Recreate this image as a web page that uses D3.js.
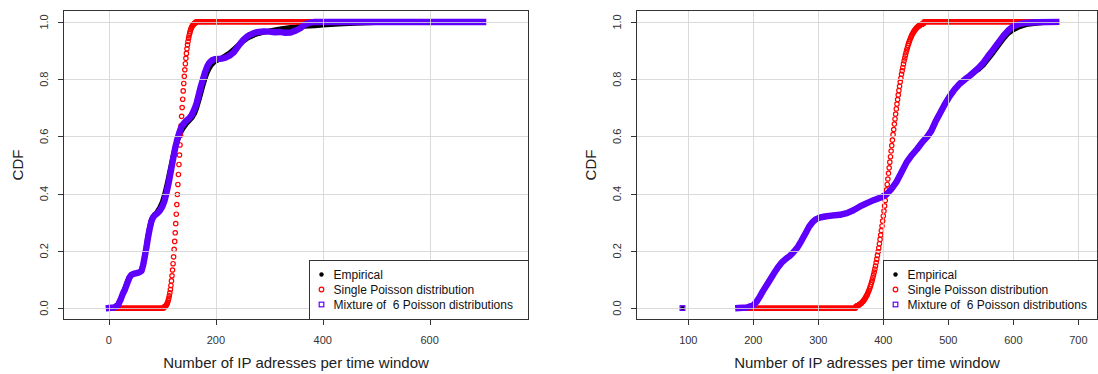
<!DOCTYPE html>
<html>
<head>
<meta charset="utf-8">
<script src="https://cdn.jsdelivr.net/npm/d3@7"></script>
<style>
  body { margin: 0; background: #fff; }
  svg text { font-family: "Liberation Sans", Arial, Helvetica, sans-serif; }
</style>
</head>
<body>
<div class="chart"></div>
<script>
// ---------- data ----------
// left panel
var leftTicksX = [0, 200, 400, 600];
var leftEmpX = [0,10,17,22,26,30,34,38,42,47,52,57,61,64,67,70,73,76,79,82,86,90,95,100,104,108,112,116,120,124,128,132,136,140,145,150,155,160,164,168,172,176,180,184,188,193,198,205,211,218,226,234,240,246,252,258,264,272,280,290,300,310,320,330,340,350,358,366,375,385,400,430,460,500,550,600,650,700];
var leftEmpCdf = [0,0.003,0.012,0.03,0.05,0.068,0.09,0.108,0.117,0.12,0.122,0.125,0.132,0.15,0.18,0.215,0.25,0.28,0.305,0.318,0.327,0.335,0.35,0.37,0.395,0.425,0.46,0.495,0.53,0.56,0.585,0.605,0.62,0.632,0.645,0.655,0.665,0.68,0.70,0.725,0.752,0.78,0.805,0.825,0.84,0.853,0.862,0.868,0.874,0.882,0.892,0.905,0.915,0.925,0.934,0.942,0.948,0.955,0.96,0.965,0.968,0.972,0.975,0.978,0.98,0.982,0.984,0.985,0.986,0.987,0.99,0.993,0.996,0.998,0.999,1,1,1];
var leftMixX = [0,10,17,22,26,30,34,38,42,47,52,57,61,64,67,70,73,76,79,82,86,90,95,100,104,108,112,116,120,124,128,132,136,140,145,150,155,160,164,168,172,176,180,184,188,193,198,205,211,218,226,234,240,246,252,258,264,272,280,290,300,310,320,330,340,350,358,366,375,385,450,500,550,600,650,700];
var leftMixCdf = [0,0.002,0.01,0.03,0.05,0.065,0.085,0.105,0.116,0.12,0.122,0.125,0.13,0.15,0.18,0.21,0.245,0.275,0.30,0.315,0.325,0.33,0.34,0.355,0.375,0.405,0.44,0.48,0.52,0.56,0.59,0.615,0.635,0.645,0.655,0.663,0.675,0.695,0.716,0.745,0.775,0.80,0.825,0.845,0.858,0.866,0.87,0.871,0.872,0.875,0.882,0.895,0.91,0.925,0.938,0.948,0.955,0.962,0.965,0.967,0.966,0.964,0.965,0.962,0.963,0.97,0.978,0.99,0.997,1,1,1,1,1,1,1];
// single Poisson: one value per integer x, starting at leftPoisStart
var leftPoisStart = 103;
var leftPoisCdf = [0.003,0.004,0.005,0.007,0.009,0.012,0.016,0.021,0.027,0.034,0.043,0.053,0.065,0.079,0.095,0.113,0.133,0.155,0.179,0.205,0.233,0.263,0.295,0.328,0.362,0.397,0.432,0.467,0.502,0.535,0.570,0.604,0.637,0.670,0.701,0.730,0.759,0.785,0.810,0.833,0.854,0.873,0.890,0.906,0.920,0.932,0.943,0.952,0.960,0.967,0.973,0.978,0.982,0.986,0.989,0.991,0.993,0.995,0.996,0.997];
// flat stretches of the single Poisson points: [from, to, cdf]
var leftPoisFlat = [[0, 102, 0], [163, 700, 1]];

// right panel
var rightTicksX = [100, 200, 300, 400, 500, 600, 700];
var rightMixX = [91,177,190,200,205,210,215,220,226,232,238,244,250,256,262,268,274,280,286,291,296,302,310,320,333,344,354,364,374,385,397,405,412,420,428,436,444,452,460,468,474,480,487,494,502,510,518,526,533,540,547,554,561,569,577,585,592,600,610,620,635,666];
var rightMixCdf = [0,0,0.002,0.01,0.022,0.04,0.06,0.078,0.1,0.122,0.143,0.16,0.172,0.182,0.196,0.212,0.235,0.26,0.285,0.3,0.31,0.316,0.32,0.323,0.326,0.332,0.342,0.355,0.366,0.377,0.387,0.398,0.415,0.44,0.475,0.51,0.535,0.556,0.58,0.6,0.62,0.65,0.68,0.71,0.74,0.765,0.785,0.8,0.812,0.826,0.84,0.858,0.88,0.903,0.928,0.952,0.97,0.985,0.993,0.997,0.999,1];
var rightEmpX = [91,177,190,200,205,210,215,220,226,232,238,244,250,256,262,268,274,280,286,291,296,302,310,320,333,344,354,364,374,385,397,405,412,420,428,436,444,452,460,468,474,480,487,494,502,510,518,526,533,540,547,554,561,569,577,585,592,600,610,620,635,650,666];
var rightEmpCdf = [0,0,0.002,0.01,0.022,0.04,0.06,0.078,0.1,0.122,0.143,0.16,0.172,0.182,0.196,0.212,0.235,0.26,0.285,0.3,0.31,0.316,0.32,0.323,0.326,0.332,0.342,0.355,0.366,0.377,0.387,0.398,0.415,0.44,0.475,0.51,0.535,0.556,0.58,0.6,0.62,0.65,0.68,0.71,0.74,0.765,0.785,0.8,0.812,0.826,0.835,0.85,0.87,0.893,0.918,0.942,0.96,0.973,0.984,0.991,0.996,0.999,1];
var rightPoisStart = 358;
var rightPoisCdf = [0.006,0.007,0.008,0.009,0.010,0.012,0.013,0.015,0.017,0.019,0.022,0.024,0.027,0.030,0.034,0.038,0.042,0.046,0.051,0.057,0.062,0.068,0.075,0.082,0.090,0.098,0.107,0.116,0.126,0.136,0.147,0.159,0.171,0.184,0.197,0.210,0.225,0.240,0.255,0.271,0.287,0.304,0.322,0.339,0.357,0.376,0.394,0.413,0.432,0.451,0.471,0.490,0.510,0.529,0.549,0.568,0.587,0.606,0.624,0.643,0.661,0.678,0.696,0.713,0.729,0.745,0.760,0.775,0.790,0.803,0.817,0.829,0.841,0.853,0.864,0.874,0.884,0.893,0.902,0.910,0.918,0.925,0.932,0.938,0.944,0.949,0.954,0.958,0.963,0.966,0.970,0.973,0.976,0.979,0.981,0.983,0.985,0.987,0.988,0.990,0.991,0.992,0.993,0.994,0.995];
var rightPoisFlat = [[185, 357, 0], [463, 666, 1]];

var yTicks = [0, 0.2, 0.4, 0.6, 0.8, 1.0];
var legendLabels = ["Empirical", "Single Poisson distribution", "Mixture of  6 Poisson distributions"];
var xTitle = "Number of IP adresses per time window";
var yTitle = "CDF";

// ---------- drawing ----------
var svgWidth = 1098;
var svgHeight = 374;
var blue = "#5f00ff";
var red = "#ff0000";
var gridColor = "#d3d3d3";

var svg = d3.select(".chart")
  .append("svg")
  .attr("width", svgWidth)
  .attr("height", svgHeight);

function pairs(xs, ys) {
  return xs.map(function (x, i) { return [x, ys[i]]; });
}

// break a series wherever consecutive x values are far apart (isolated observations)
function runs(points, maxGap) {
  var out = [[points[0]]];
  for (var i = 1; i < points.length; i++) {
    if (points[i][0] - points[i - 1][0] > maxGap) out.push([]);
    out[out.length - 1].push(points[i]);
  }
  return out;
}

function drawPanel(p) {
  var xScale = d3.scaleLinear().domain(p.xDomain).range([p.left, p.right]);
  var yScale = d3.scaleLinear().domain([-0.04, 1.04]).range([319.5, 10.5]);
  var g = svg.append("g");

  var line = d3.line()
    .x(function (d) { return xScale(d[0]); })
    .y(function (d) { return yScale(d[1]); });

  // empirical (black dots, drawn as a dense band)
  runs(pairs(p.empX, p.empCdf), 70).forEach(function (r) {
    if (r.length === 1) {
      g.append("circle").attr("cx", xScale(r[0][0])).attr("cy", yScale(r[0][1]))
        .attr("r", 2.2).attr("fill", "#000");
    } else {
      g.append("path").datum(r).attr("d", line)
        .attr("fill", "none").attr("stroke", "#000")
        .attr("stroke-width", 5.2).attr("stroke-linejoin", "round");
    }
  });

  // single Poisson: flat stretches as a band, rising part as open circles
  p.poisFlat.forEach(function (f) {
    g.append("path").datum([[f[0], f[2]], [f[1], f[2]]]).attr("d", line)
      .attr("fill", "none").attr("stroke", red)
      .attr("stroke-width", 5.8).attr("stroke-linecap", "round");
  });
  g.selectAll("circle.pois")
    .data(p.poisCdf)
    .enter()
    .append("circle")
    .attr("class", "pois")
    .attr("cx", function (d, i) { return xScale(p.poisStart + i); })
    .attr("cy", function (d) { return yScale(d); })
    .attr("r", 2.2)
    .attr("fill", "none")
    .attr("stroke", red)
    .attr("stroke-width", 1.2);

  // mixture (open squares, drawn as a dense band)
  runs(pairs(p.mixX, p.mixCdf), 70).forEach(function (r) {
    if (r.length === 1) {
      g.append("rect").attr("x", xScale(r[0][0]) - 2.3).attr("y", yScale(r[0][1]) - 2.3)
        .attr("width", 4.6).attr("height", 4.6)
        .attr("fill", "none").attr("stroke", blue).attr("stroke-width", 1.3);
    } else {
      g.append("path").datum(r).attr("d", line)
        .attr("fill", "none").attr("stroke", blue)
        .attr("stroke-width", 6.4).attr("stroke-linejoin", "round")
        .attr("stroke-linecap", "square");
    }
  });

  // grid
  g.selectAll("line.gx").data(p.ticksX).enter().append("line")
    .attr("x1", function (d) { return Math.round(xScale(d)) + 0.5; })
    .attr("x2", function (d) { return Math.round(xScale(d)) + 0.5; })
    .attr("y1", 10.5).attr("y2", 319.5)
    .attr("stroke", gridColor).attr("stroke-opacity", 0.85);
  g.selectAll("line.gy").data(yTicks).enter().append("line")
    .attr("x1", p.left).attr("x2", p.right)
    .attr("y1", function (d) { return Math.round(yScale(d)) + 0.5; })
    .attr("y2", function (d) { return Math.round(yScale(d)) + 0.5; })
    .attr("stroke", gridColor).attr("stroke-opacity", 0.85);

  // frame
  g.append("rect")
    .attr("x", p.left).attr("y", 10.5)
    .attr("width", p.right - p.left).attr("height", 309)
    .attr("fill", "none").attr("stroke", "#333").attr("stroke-width", 1);

  // axes ticks and labels
  g.selectAll("line.tx").data(p.ticksX).enter().append("line")
    .attr("x1", function (d) { return Math.round(xScale(d)) + 0.5; })
    .attr("x2", function (d) { return Math.round(xScale(d)) + 0.5; })
    .attr("y1", 319.5).attr("y2", 325)
    .attr("stroke", "#333");
  g.selectAll("text.tx").data(p.ticksX).enter().append("text")
    .attr("x", function (d) { return xScale(d); })
    .attr("y", 340)
    .attr("text-anchor", "middle").attr("dominant-baseline", "central")
    .attr("font-size", 11).attr("fill", "#333")
    .text(function (d) { return d; });

  g.selectAll("line.ty").data(yTicks).enter().append("line")
    .attr("x1", p.left - 5.5).attr("x2", p.left)
    .attr("y1", function (d) { return Math.round(yScale(d)) + 0.5; })
    .attr("y2", function (d) { return Math.round(yScale(d)) + 0.5; })
    .attr("stroke", "#333");
  g.selectAll("text.ty").data(yTicks).enter().append("text")
    .attr("transform", function (d) {
      return "translate(" + (p.left - 19.5) + "," + yScale(d) + ") rotate(-90)";
    })
    .attr("text-anchor", "middle").attr("dominant-baseline", "central")
    .attr("font-size", 11).attr("fill", "#333")
    .text(function (d) { return d.toFixed(1); });

  // axis titles
  g.append("text")
    .attr("x", (p.left + p.right) / 2).attr("y", 362)
    .attr("text-anchor", "middle").attr("dominant-baseline", "central")
    .attr("font-size", 15).attr("fill", "#222")
    .text(xTitle);
  g.append("text")
    .attr("transform", "translate(" + (p.left - 46.5) + ",165) rotate(-90)")
    .attr("text-anchor", "middle").attr("dominant-baseline", "central")
    .attr("font-size", 15).attr("fill", "#222")
    .text(yTitle);

  // legend
  var lg = g.append("g");
  lg.append("rect")
    .attr("x", p.legendLeft).attr("y", 260.5)
    .attr("width", p.right - p.legendLeft).attr("height", 59)
    .attr("fill", "#fff").attr("stroke", "#333");
  var rowY = [274.5, 289.5, 304.5];
  var symX = p.legendLeft + 12;
  lg.append("circle").attr("cx", symX).attr("cy", rowY[0]).attr("r", 2.2).attr("fill", "#000");
  lg.append("circle").attr("cx", symX).attr("cy", rowY[1]).attr("r", 2.3)
    .attr("fill", "none").attr("stroke", red).attr("stroke-width", 1.2);
  lg.append("rect").attr("x", symX - 2.3).attr("y", rowY[2] - 2.3)
    .attr("width", 4.6).attr("height", 4.6)
    .attr("fill", "none").attr("stroke", blue).attr("stroke-width", 1.2);
  lg.selectAll("text").data(legendLabels).enter().append("text")
    .attr("x", p.legendLeft + 24)
    .attr("y", function (d, i) { return rowY[i]; })
    .attr("dominant-baseline", "central")
    .attr("font-size", 12).attr("fill", "#111")
    .style("white-space", "pre")
    .text(function (d) { return d; });
}

drawPanel({
  left: 63.5, right: 528.5, xDomain: [-85, 785], ticksX: leftTicksX,
  empX: leftEmpX, empCdf: leftEmpCdf, mixX: leftMixX, mixCdf: leftMixCdf,
  poisStart: leftPoisStart, poisCdf: leftPoisCdf, poisFlat: leftPoisFlat,
  legendLeft: 309.5
});

drawPanel({
  left: 636.5, right: 1097.5, xDomain: [20.3, 729.5], ticksX: rightTicksX,
  empX: rightEmpX, empCdf: rightEmpCdf, mixX: rightMixX, mixCdf: rightMixCdf,
  poisStart: rightPoisStart, poisCdf: rightPoisCdf, poisFlat: rightPoisFlat,
  legendLeft: 883.5
});
</script>
</body>
</html>
